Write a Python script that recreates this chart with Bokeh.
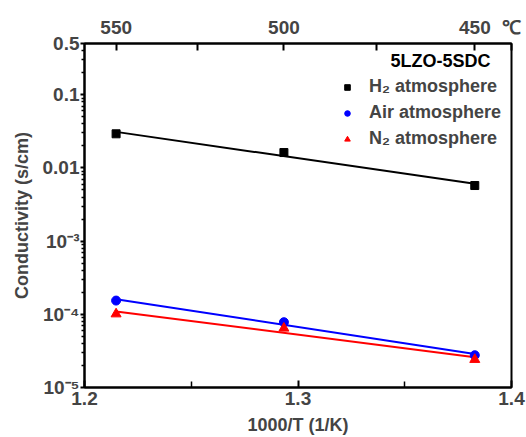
import numpy as np
from bokeh.plotting import figure
from bokeh.models import (LinearAxis, FixedTicker, Range1d, Label, Legend, LegendItem)
from bokeh.embed import file_html
from bokeh.resources import INLINE

# data
temps_c = [550, 500, 450]
x_vals = [1.2148, 1.2934, 1.3828]
h2 = [0.0292, 0.0162, 0.00574]
air = [1.54e-4, 7.8e-5, 2.76e-5]
n2 = [1.01e-4, 6.45e-5, 2.41e-5]
top_minor_c = [525, 475]

y_major = [1e-5, 1e-4, 1e-3, 0.01, 0.1, 0.5]
y_labels = {1e-5: "10⁻⁵", 1e-4: "10⁻⁴", 1e-3: "10⁻³", 0.01: "0.01", 0.1: "0.1", 0.5: "0.5"}

FONT = "Liberation Sans"

p = figure(width=526, height=437, x_range=Range1d(1.2, 1.4), y_range=Range1d(1e-5, 0.5),
           y_axis_type="log", output_backend="svg", toolbar_location=None,
           min_border_left=84, min_border_right=15, min_border_top=43, min_border_bottom=50)
p.grid.visible = False
p.outline_line_color = "black"
p.outline_line_width = 2
p.background_fill_color = "white"

# fits in log space
def fit(ys):
    c = np.polyfit(x_vals, np.log10(ys), 1)
    xs = np.array([x_vals[0], x_vals[-1]])
    return xs, 10 ** np.polyval(c, xs)

for ys, col in [(h2, "black"), (air, "blue"), (n2, "red")]:
    fx, fy = fit(ys)
    p.line(fx, fy, line_color=col, line_width=2)

r_h2 = p.scatter(x_vals, h2, marker="square", size=8, color="black")
r_air = p.scatter(x_vals, air, marker="circle", size=9, color="blue")
r_n2 = p.scatter(x_vals, n2, marker="triangle", size=10, color="red")

# axes styling
xa = p.xaxis[0]
xa.ticker = FixedTicker(ticks=[1.2, 1.3, 1.4], minor_ticks=[1.25, 1.35])
xa.major_label_overrides = {1.2: "1.2", 1.3: "1.3", 1.4: "1.4"}
xa.axis_label = "1000/T (1/K)"
ya = p.yaxis[0]
minor = [m * 10 ** e for e in range(-5, 0) for m in range(2, 10) if m * 10 ** e < 0.5]
ya.ticker = FixedTicker(ticks=y_major, minor_ticks=minor)
ya.major_label_overrides = y_labels
ya.axis_label = "Conductivity (s/cm)"

for ax in (xa, ya):
    ax.axis_line_width = 2
    ax.major_tick_line_width = 2
    ax.minor_tick_line_width = 1.5
    ax.major_label_text_font = FONT
    ax.major_label_text_font_style = "bold"
    ax.major_label_text_font_size = "19px"
    ax.axis_label_text_font = FONT
    ax.axis_label_text_font_style = "bold"
    ax.axis_label_text_font_size = "18px"

xa.major_tick_in = 7
xa.major_tick_out = 0
xa.minor_tick_in = 6
xa.minor_tick_out = 0
xa.major_label_standoff = 4
xa.axis_label_standoff = 7
ya.major_tick_in = 0
ya.major_tick_out = 4
ya.minor_tick_in = 0
ya.minor_tick_out = 3
ya.major_label_standoff = 1
ya.axis_label_standoff = 8

top_ticks = [1000 / (t + 273.15) for t in temps_c]
top_minor = [1000 / (t + 273.15) for t in top_minor_c]
overrides = {tt: str(t) for tt, t in zip(top_ticks, temps_c)}
overrides[1.4] = "℃"
ta = LinearAxis(ticker=FixedTicker(ticks=top_ticks + [1.4], minor_ticks=top_minor),
                major_label_overrides=overrides)
ta.axis_line_width = 2
ta.major_tick_line_width = 2
ta.minor_tick_line_width = 2
ta.major_tick_in = 7
ta.major_tick_out = 0
ta.minor_tick_in = 7
ta.minor_tick_out = 0
ta.major_label_standoff = 6
ta.major_label_text_font = FONT
ta.major_label_text_font_style = "bold"
ta.major_label_text_font_size = "19px"
p.add_layout(ta, "above")

# legend title
p.add_layout(Label(x=1.4, y=0.5, text="5LZO-5SDC", x_offset=-21, y_offset=-17,
                   text_align="right", text_baseline="middle", text_font=FONT,
                   text_font_style="bold", text_font_size="18px", text_color="black"))

legend = Legend(items=[LegendItem(label="H₂ atmosphere", renderers=[r_h2]),
                       LegendItem(label="Air atmosphere", renderers=[r_air]),
                       LegendItem(label="N₂ atmosphere", renderers=[r_n2])],
                location=(256, 238))
legend.border_line_color = None
legend.background_fill_alpha = 0
legend.padding = 0
legend.margin = 0
legend.spacing = 5
legend.label_height = 20
legend.glyph_height = 20
legend.glyph_width = 14
legend.label_standoff = 15
legend.label_text_font = FONT
legend.label_text_font_style = "bold"
legend.label_text_font_size = "18px"
p.add_layout(legend)

open("out.html", "w").write(file_html(p, INLINE))
